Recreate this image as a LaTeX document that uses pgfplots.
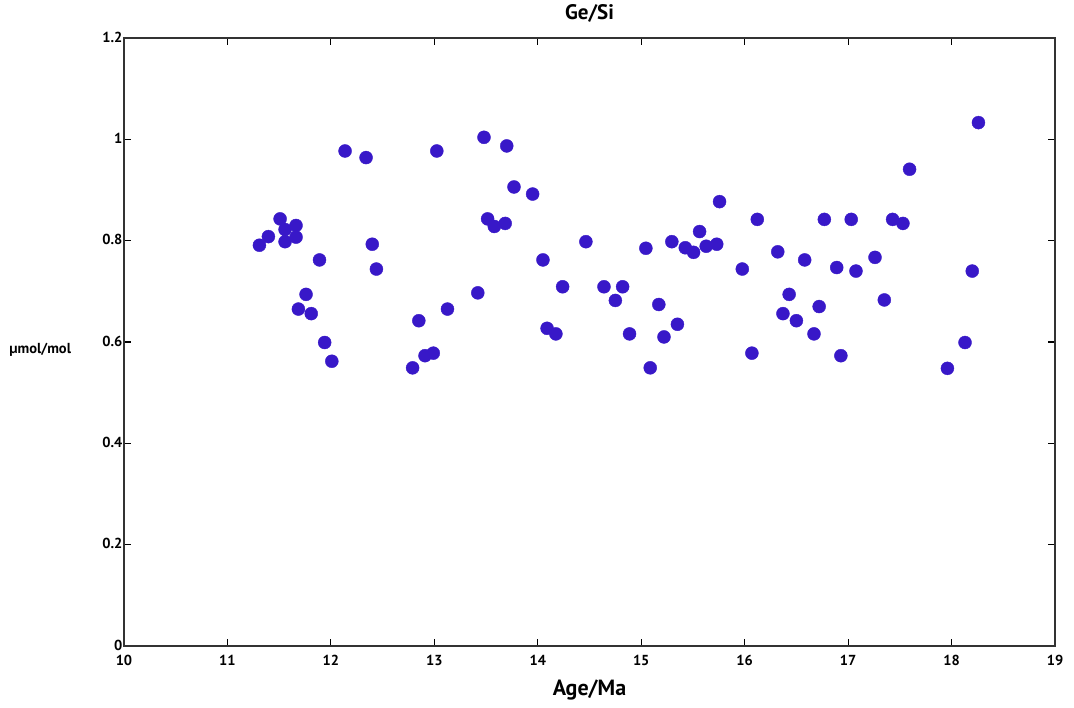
\documentclass[border=0pt]{standalone}
\usepackage{fontspec}
\setmainfont{PT Sans}
\usepackage{pgfplots}
\pgfplotsset{compat=1.18}
\definecolor{dotblue}{RGB}{56,24,200}

\begin{document}
\begin{tikzpicture}[x=1pt,y=1pt]
\begin{axis}[
  name=ax,
  scale only axis,
  width=931pt, height=608pt,
  xmin=10, xmax=19, ymin=0, ymax=1.2,
  xtick={10,11,...,19},
  ytick={0,0.2,0.4,0.6,0.8,1,1.2},
  yticklabels={0,0.2,0.4,0.6,0.8,1,1.2},
  tick align=inside,
  major tick length=7pt,
  tick style={line width=1.2pt,black},
  axis line style={line width=1.6pt,black!80},
  /pgf/number format/assume math mode=true,
  tick label style={font=\bfseries\fontsize{14.5}{17}\selectfont},
  xticklabel style={yshift=-6pt},
  yticklabel style={xshift=2pt, yshift=1pt},
  title={Ge/Si},
  title style={font=\bfseries\fontsize{21}{24}\selectfont, at={(axis description cs:0.5,1)}, anchor=south, yshift=6pt},
  xlabel={Age/Ma},
  xlabel style={font=\bfseries\fontsize{22}{25}\selectfont, at={(axis description cs:0.5,0)}, anchor=north, yshift=-30pt},
  ylabel={µmol/mol},
  ylabel style={rotate=-90, font=\bfseries\fontsize{14.5}{17}\selectfont, at={(axis description cs:-0.09,0.487)}, anchor=center},
  clip=false,
]
\addplot[only marks, mark=*, mark size=6.5pt, color=dotblue, mark options={draw=dotblue, fill=dotblue}]
coordinates {
(11.309,0.791) (11.396,0.808) (11.509,0.843) (11.557,0.822) (11.557,0.798)
(11.663,0.830) (11.663,0.807) (11.686,0.665) (11.760,0.694) (11.810,0.656)
(11.890,0.762) (11.940,0.599) (12.009,0.562) (12.137,0.977) (12.340,0.964)
(12.400,0.793) (12.440,0.744) (12.790,0.549) (12.850,0.642) (12.910,0.573)
(12.990,0.578) (13.024,0.977) (13.127,0.665) (13.420,0.697) (13.480,1.004)
(13.515,0.843) (13.580,0.828) (13.685,0.834) (13.700,0.987) (13.770,0.906)
(13.950,0.892) (14.050,0.762) (14.090,0.627) (14.175,0.616) (14.240,0.709)
(14.465,0.798) (14.640,0.709) (14.750,0.682) (14.820,0.709) (14.887,0.616)
(15.045,0.785) (15.087,0.549) (15.170,0.674) (15.220,0.610) (15.296,0.798)
(15.350,0.635) (15.426,0.786) (15.506,0.777) (15.564,0.818) (15.628,0.789)
(15.730,0.793) (15.757,0.877) (15.977,0.744) (16.070,0.578) (16.122,0.842)
(16.320,0.778) (16.370,0.656) (16.430,0.694) (16.500,0.642) (16.580,0.762)
(16.670,0.616) (16.720,0.670) (16.770,0.842) (16.890,0.747) (16.930,0.573)
(17.030,0.842) (17.076,0.740) (17.260,0.767) (17.350,0.683) (17.430,0.842)
(17.530,0.834) (17.594,0.941) (17.960,0.548) (18.130,0.599) (18.200,0.740)
(18.260,1.033)
};
\end{axis}
\path (ax.south west) ++(-124pt,-61pt) coordinate (bbl);
\path (ax.north east) ++(19pt,38pt) coordinate (bbr);
\path (bbl) rectangle (bbr);
\end{tikzpicture}
\end{document}
